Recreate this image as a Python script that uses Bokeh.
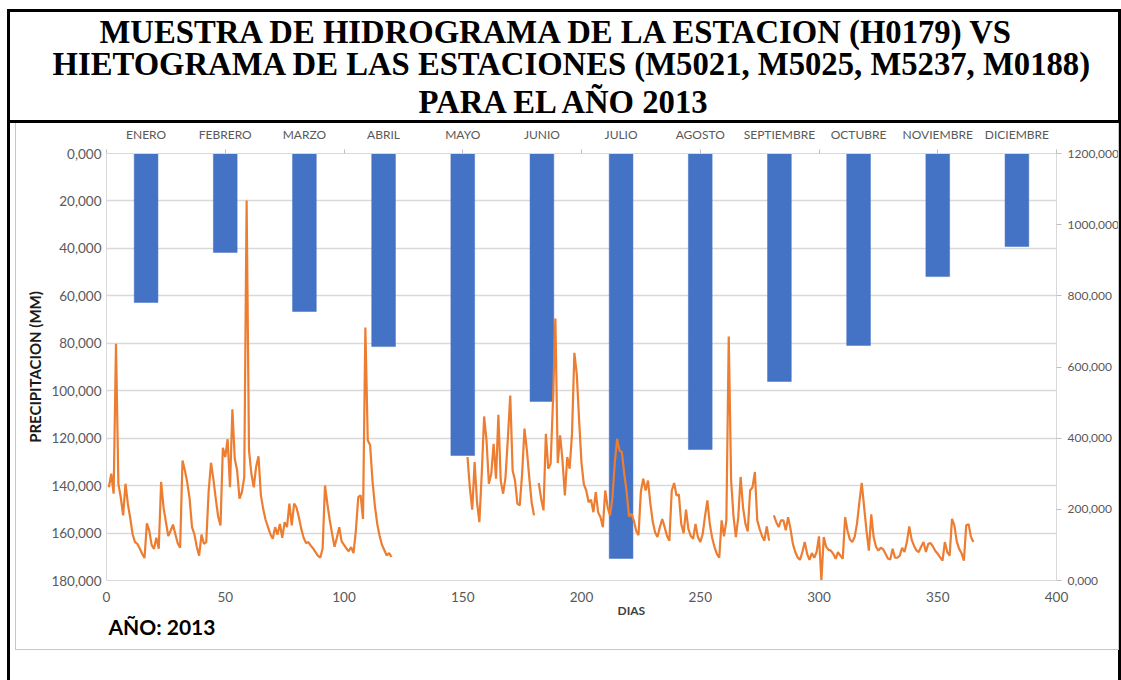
import numpy as np
from bokeh.plotting import figure
from bokeh.models import Range1d, LinearAxis, FixedTicker, Title, Div
from bokeh.layouts import column
from bokeh.embed import file_html
from bokeh.resources import INLINE

# ---------------- data ----------------
meses = ["ENERO", "FEBRERO", "MARZO", "ABRIL", "MAYO", "JUNIO", "JULIO",
         "AGOSTO", "SEPTIEMBRE", "OCTUBRE", "NOVIEMBRE", "DICIEMBRE"]
precipitacion = [62.8, 41.7, 66.6, 81.4, 127.3, 104.5, 170.7, 124.8, 96.1, 80.9, 51.9, 39.2]

dias = list(range(1, 366))
N = None
caudal = [
    262, 300, 244, 665, 272, 234, 183, 272, 215, 175,
    130, 108, 103, 90, 75, 63, 161, 140, 100, 89,
    120, 89, 277, 206, 165, 125, 140, 157, 130, 105,
    92, 337, 310, 275, 230, 150, 130, 95, 70, 129,
    103, 108, 250, 331, 285, 230, 180, 155, 373, 347,
    397, 262, 481, 342, 309, 230, 248, 290, 1068, 366,
    300, 262, 320, 349, 240, 200, 170, 150, 130, 117,
    150, 129, 159, 120, 164, 150, 216, 155, 216, 205,
    178, 145, 120, 105, 108, 98, 90, 80, 70, 64,
    90, 267, 215, 170, 131, 95, 120, 150, 110, 100,
    90, 82, 94, 77, 140, 234, 239, 173, 711, 394,
    380, 280, 210, 159, 125, 100, 85, 70, 77, 66,
    N, N, N, N, N, N, N, N, N, N,
    N, N, N, N, N, N, N, N, N, N,
    N, N, N, N, N, N, N, N, N, N,
    N, 347, 260, 199, 333, 220, 164, 300, 461, 394,
    272, 300, 384, 286, 466, 280, 244, 290, 400, 520,
    309, 281, 216, 211, 300, 427, 366, 290, 220, 183,
    N, 274, 230, 197, 412, 314, 328, 506, 736, 330,
    408, 337, 239, 347, 314, 412, 640, 581, 450, 330,
    270, 253, 220, 227, 192, 248, 192, 178, 150, 253,
    206, 183, 230, 330, 398, 365, 361, 300, 250, 180,
    188, 169, 140, 127, 250, 286, 253, 281, 216, 165,
    135, 122, 150, 173, 150, 125, 112, 253, 274, 239,
    242, 159, 133, 199, 145, 125, 117, 159, 122, 108,
    130, 180, 225, 160, 120, 94, 75, 64, 169, 124,
    169, 686, 281, 180, 122, 178, 291, 206, 160, 138,
    253, 262, 305, 169, 145, 125, 112, 152, 112, N,
    183, 164, 150, 169, 169, 141, 178, 145, 103, 80,
    65, 58, 80, 108, 75, 58, 77, 64, 80, 124,
    0, 122, 95, 86, 84, 75, 61, 80, 70, 61,
    178, 140, 115, 108, 122, 160, 220, 274, 206, 140,
    84, 186, 122, 95, 84, 92, 88, 75, 62, 59,
    89, 64, 64, 70, 92, 80, 108, 152, 115, 98,
    85, 80, 95, 108, 80, 103, 105, 95, 83, 75,
    65, 56, 108, 80, 70, 173, 155, 110, 89, 77,
    56, 155, 158, 122, 108,
]

precip_ticks = list(range(0, 181, 20))
caudal_ticks = list(range(0, 1201, 200))
dias_ticks = list(range(0, 401, 50))

titulo = ["MUESTRA DE HIDROGRAMA DE LA ESTACION (H0179) VS",
          "HIETOGRAMA DE LAS ESTACIONES (M5021, M5025, M5237, M0188)",
          "PARA EL AÑO 2013"]

# ---------------- figure ----------------
W, H = 1121, 680
GRAY_TXT = "#595959"
AXIS_GRAY = "#d9d9d9"
FONT = "Lato"

p = figure(width=W, height=H, x_range=Range1d(0, 400), y_range=Range1d(180, 0),
           output_backend="svg", toolbar_location=None,
           min_border_left=106, min_border_right=65, min_border_top=153, min_border_bottom=100,
           title=titulo[0])
p.outline_line_color = None
p.background_fill_color = "white"
p.border_fill_color = "white"

p.extra_y_ranges = {"caudal": Range1d(0, 1200)}
p.extra_x_ranges = {"mes": Range1d(0, 12)}

# bars (precipitation, inverted left axis)
mes_x = [i + 0.5 for i in range(len(meses))]
p.vbar(x=mes_x, width=0.3, top=0, bottom=precipitacion, x_range_name="mes",
       fill_color="#4472C4", line_color="#4472C4", line_width=0.5)

# line (discharge, right axis)
caudal_arr = np.array(caudal, dtype=float)
p.line(dias, caudal_arr, y_range_name="caudal", line_color="#ED7D31", line_width=2.2)

# grid
p.xgrid.visible = False
yticker = FixedTicker(ticks=precip_ticks)
p.ygrid[0].ticker = yticker
p.ygrid[0].grid_line_color = AXIS_GRAY
p.ygrid[0].grid_line_width = 1.3

# left axis
yl = p.left[0]
yl.ticker = yticker
yl.major_label_overrides = {v: f"{v},000" for v in precip_ticks}
yl.axis_label = "PRECIPITACION (MM)"
yl.axis_label_text_font = FONT
yl.axis_label_text_font_size = "15px"
yl.axis_label_text_font_style = "bold"
yl.axis_label_text_color = "#1a1a1a"
yl.axis_label_standoff = 4

# bottom axis
xb = p.below[0]
xb.ticker = FixedTicker(ticks=dias_ticks)

for ax in (yl, xb):
    ax.axis_line_color = AXIS_GRAY
    ax.major_tick_out = 0
    ax.major_tick_in = 0
    ax.minor_tick_out = 0
    ax.minor_tick_in = 0
    ax.major_label_text_font = FONT
    ax.major_label_text_font_size = "13.5px"
    ax.major_label_text_color = GRAY_TXT
    ax.major_label_standoff = 5
xb.major_label_standoff = 11

# right axis
yr = LinearAxis(y_range_name="caudal", ticker=FixedTicker(ticks=caudal_ticks),
                major_label_overrides={v: f"{v},000" for v in caudal_ticks})
yr.axis_line_color = AXIS_GRAY
yr.major_tick_out = 5
yr.major_tick_in = 0
yr.major_tick_line_color = "#bfbfbf"
yr.minor_tick_out = 0
yr.minor_tick_in = 0
yr.major_label_text_font = FONT
yr.major_label_text_font_size = "12px"
yr.major_label_text_color = GRAY_TXT
yr.major_label_standoff = 6
p.add_layout(yr, "right")

# top axis (months)
xt = LinearAxis(x_range_name="mes",
                ticker=FixedTicker(ticks=mes_x, minor_ticks=[i * 1.5 for i in range(9)]),
                major_label_overrides={x: m for x, m in zip(mes_x, meses)})
xt.axis_line_color = AXIS_GRAY
xt.major_tick_out = 0
xt.major_tick_in = 0
xt.minor_tick_out = 4
xt.minor_tick_in = 0
xt.minor_tick_line_color = "#bfbfbf"
xt.major_label_text_font = FONT
xt.major_label_text_font_size = "12px"
xt.major_label_text_color = GRAY_TXT
xt.major_label_standoff = 8
p.add_layout(xt, "above")

# titles
def style_title(t, offset, standoff):
    t.text_font = "Liberation Serif"
    t.text_font_size = "32.7px"
    t.text_font_style = "bold"
    t.text_color = "black"
    t.align = "left"
    t.offset = offset
    t.standoff = standoff

t3 = Title(text=titulo[2]); style_title(t3, 312, 7)
t2 = Title(text=titulo[1]); style_title(t2, -54, -7)
p.add_layout(t3, "above")
p.add_layout(t2, "above")
style_title(p.title, -7, -4)

# below titles
t_dias = Title(text="DIAS", align="left", offset=511, text_font=FONT, text_font_size="12px",
               text_font_style="bold", text_color="#404040", standoff=-7)
p.add_layout(t_dias, "below")
t_anio = Title(text="AÑO: 2013", align="left", offset=2, text_font=FONT, text_font_size="21px",
               text_font_style="bold", text_color="black", standoff=-6)
p.add_layout(t_anio, "below")

# table-cell borders and chart-area border drawn as an overlay
boxes = (
    '<div style="position:absolute;left:7px;top:9px;width:1114px;height:114px;'
    'box-sizing:border-box;border:3px solid #000;"></div>'
    '<div style="position:absolute;left:7px;top:120px;width:3px;height:560px;background:#000;"></div>'
    '<div style="position:absolute;left:1118px;top:120px;width:3px;height:560px;background:#000;"></div>'
    '<div style="position:absolute;left:15px;top:123px;width:1104px;height:527px;'
    'box-sizing:border-box;border:1px solid #c8c8c8;border-top:none;"></div>'
)
overlay = Div(text=boxes, width=W, height=H, margin=(0, 0, 0, 0),
              styles={"position": "absolute", "left": "0px", "top": "0px",
                      "pointer-events": "none", "z-index": "5"})

layout = column(p, overlay)
open("out.html", "w").write(file_html(layout, INLINE))
